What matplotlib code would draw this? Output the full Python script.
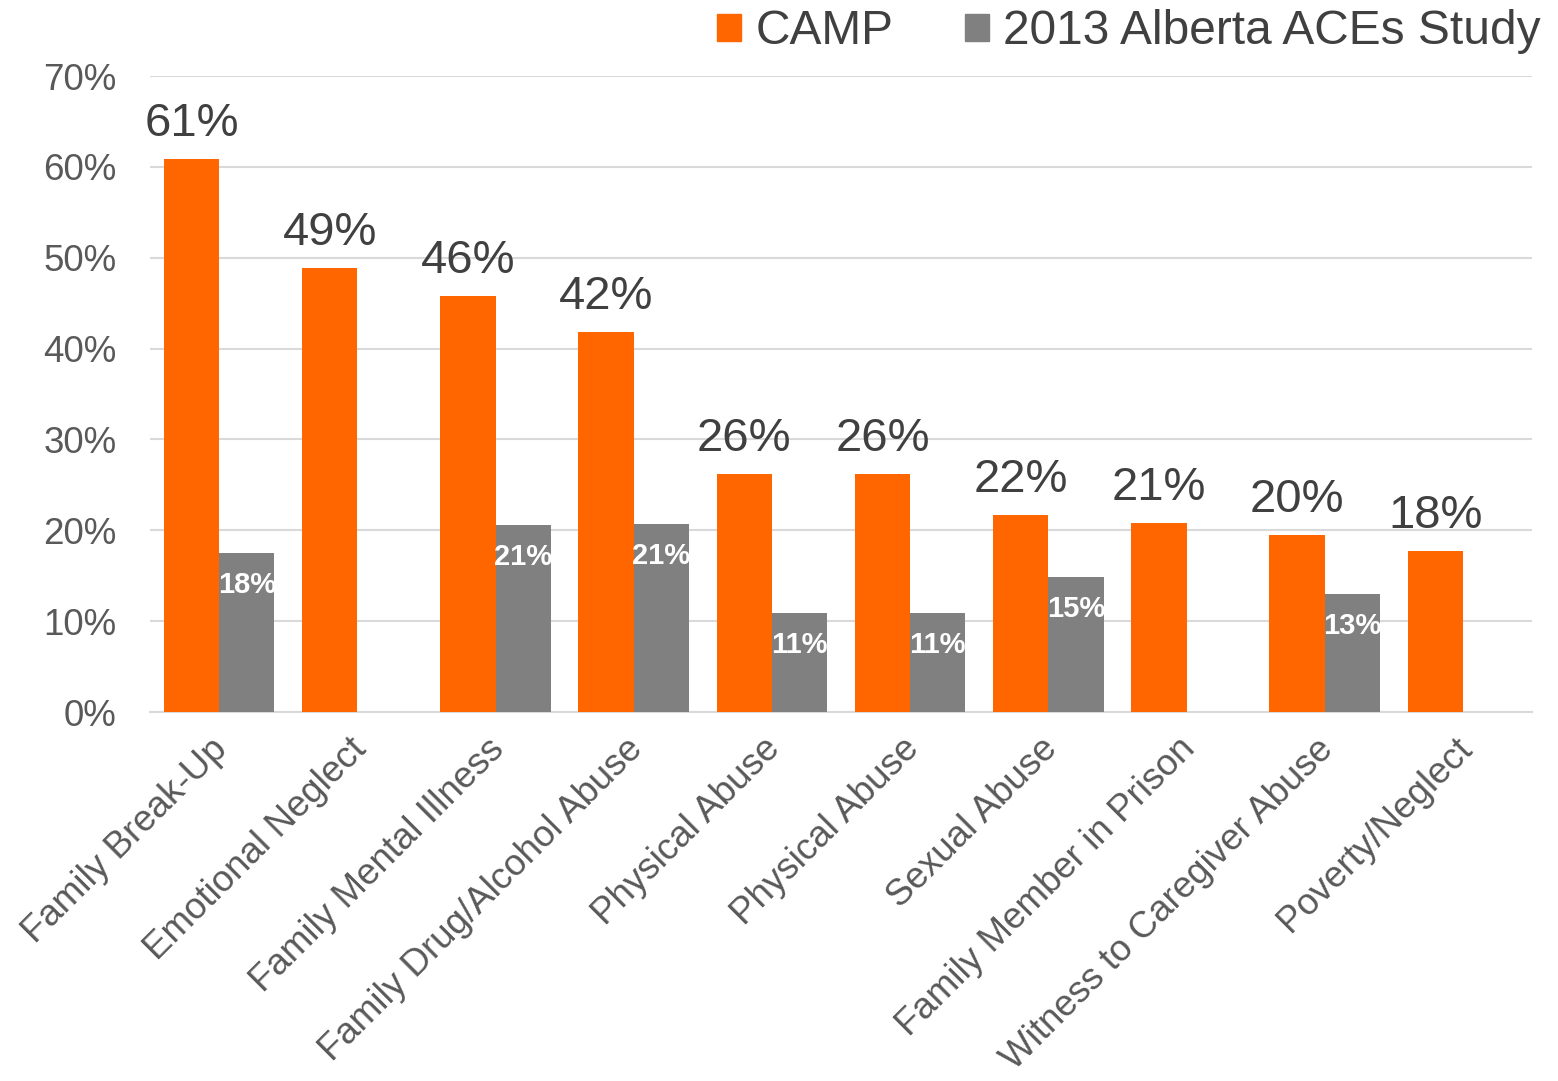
import matplotlib
matplotlib.use("Agg")
import matplotlib.pyplot as plt
from matplotlib.patches import Patch
from matplotlib.transforms import ScaledTranslation
import numpy as np

plt.rcParams['font.family'] = ['Liberation Sans', 'DejaVu Sans']

categories = ["Family Break-Up", "Emotional Neglect", "Family Mental Illness",
              "Family Drug/Alcohol Abuse", "Physical Abuse", "Physical Abuse",
              "Sexual Abuse", "Family Member in Prison", "Witness to Caregiver Abuse",
              "Poverty/Neglect"]
camp = [60.9, 48.9, 45.8, 41.8, 26.2, 26.2, 21.7, 20.8, 19.5, 17.7]
camp_labels = ["61%", "49%", "46%", "42%", "26%", "26%", "22%", "21%", "20%", "18%"]
aces = [17.5, None, 20.6, 20.7, 10.9, 10.9, 14.9, None, 13.0, None]
aces_labels = ["18%", None, "21%", "21%", "11%", "11%", "15%", None, "13%", None]

orange = "#ff6600"
grey = "#808080"

fig = plt.figure(figsize=(15.58, 10.81), dpi=100)
ax = fig.add_axes([150/1558, 1-712/1081, (1532-150)/1558, (712-76)/1081])

x = np.arange(len(categories))
w = 0.4
ax.bar(x - w/2, camp, width=w, color=orange, zorder=3)
for i, v in enumerate(camp):
    ax.annotate(camp_labels[i], (x[i] - w/2, v), xytext=(0, 25), textcoords="offset points",
                ha="center", va="center", fontsize=34, color="#404040")

for i, v in enumerate(aces):
    if v is None:
        continue
    ax.bar(x[i] + w/2, v, width=w, color=grey, zorder=3)
    ax.annotate(aces_labels[i], (x[i] + w/2, v), xytext=(0, -23), textcoords="offset points",
                ha="center", va="center", fontsize=21, fontweight="bold", color="white", zorder=4)

ax.set_xlim(-0.5, len(categories) - 0.5)
ax.set_ylim(0, 70)
ax.set_yticks(range(0, 71, 10))
ax.set_yticklabels([f"{t}%" for t in range(0, 71, 10)], fontsize=26.5, color="#595959")
ax.yaxis.grid(True, color="#d9d9d9", linewidth=1.5, zorder=0)
ax.set_xticks(x)
ax.set_xticklabels(categories, rotation=45, ha="right", va="top", rotation_mode="anchor",
                   fontsize=26.5, color="#595959")
ax.tick_params(axis="both", length=0)
ax.tick_params(axis="y", pad=24)
ax.tick_params(axis="x", pad=14)
# nudge the rotated labels a bit to the left, like the original
shift = ScaledTranslation(-9/100, 0, fig.dpi_scale_trans)
for lab in ax.get_xticklabels():
    lab.set_transform(lab.get_transform() + shift)
for s in ["top", "right", "left"]:
    ax.spines[s].set_visible(False)
ax.spines["bottom"].set_color("#d9d9d9")
ax.spines["bottom"].set_linewidth(1.5)

handles = [Patch(color=orange, label="CAMP"), Patch(color=grey, label="2013 Alberta ACEs Study")]
leg = fig.legend(handles=handles, loc="center right", bbox_to_anchor=(1541/1558, 1-32/1081),
                 ncol=2, frameon=False, fontsize=34.5, handlelength=0.5, handleheight=0.5,
                 handletextpad=0.3, columnspacing=1.5, borderpad=0, borderaxespad=0)
for t in leg.get_texts():
    t.set_color("#404040")

fig.savefig("out.png", dpi=100)
